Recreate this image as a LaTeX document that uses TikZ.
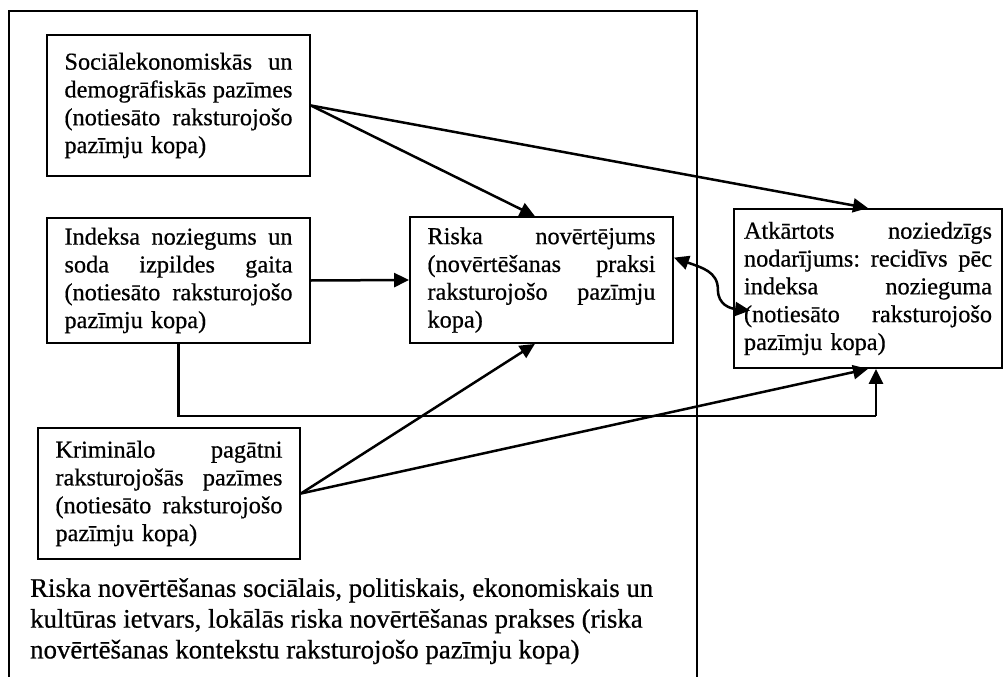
\documentclass[tikz,border=0pt]{standalone}
\usepackage{fontspec}
\setmainfont{Liberation Serif}[FakeBold=0.6]
\newfontfamily\boxfont{Liberation Serif}[FakeBold=0.6]
\usetikzlibrary{arrows.meta,calc}
\begin{document}
\begin{tikzpicture}[x=1pt,y=-1pt,
  box/.style={draw,line width=1.8pt,rectangle,inner xsep=0pt,inner ysep=0pt,
    align=left,font=\boxfont\fontsize{24.3}{27.8}\selectfont},
  tip/.tip={Triangle[length=15pt,width=14pt]},
  arr/.style={line width=2.5pt,-tip},
  arrb/.style={line width=2.5pt,tip-tip}]
\useasboundingbox (0,0) rectangle (1004,677);
% outer frame
\draw[line width=1.8pt] (9,677) -- (9,11) -- (697,11) -- (697,677);
% boxes
\node[box,minimum width=263pt,minimum height=141pt,text width=228pt] (b1) at (178.5,105.5)
 {Sociālekonomiskās\hfill un\\demogrāfiskās\hfill pazīmes\\(notiesāto\hfill raksturojošo\\pazīmju kopa)};
\node[box,minimum width=263pt,minimum height=125pt,text width=228pt] (b2) at (178.5,280.5)
 {Indeksa\hfill noziegums\hfill un\\soda\hfill izpildes\hfill gaita\\(notiesāto\hfill raksturojošo\\pazīmju kopa)};
\node[box,minimum width=263pt,minimum height=126pt,text width=228pt] (b3) at (541.5,280)
 {Riska\hfill novērtējums\\(novērtēšanas\hfill praksi\\raksturojošo\hfill pazīmju\\kopa)};
\node[box,minimum width=268pt,minimum height=159pt,text width=248pt] (b4) at (868,288.5)
 {Atkārtots\hfill noziedzīgs\\nodarījums:\hfill recidīvs\hfill pēc\\indeksa\hfill nozieguma\\(notiesāto\hfill raksturojošo\\pazīmju kopa)};
\node[box,minimum width=262pt,minimum height=131pt,text width=227pt] (b5) at (169,493.5)
 {Kriminālo\hfill pagātni\\raksturojošās\hfill pazīmes\\(notiesāto\hfill raksturojošo\\pazīmju kopa)};
% context text
\node[anchor=north west,inner sep=0pt,align=left,font=\fontsize{26.8}{30.8}\selectfont] (ctx) at (30,578)
 {Riska novērtēšanas sociālais, politiskais, ekonomiskais un\\kultūras ietvars, lokālās riska novērtēšanas prakses (riska\\novērtēšanas kontekstu raksturojošo pazīmju kopa)};
% anchor points
\coordinate (b3n) at ($(b3.north west)!0.475!(b3.north east)$);
\coordinate (b3s) at ($(b3.south west)!0.475!(b3.south east)$);
\coordinate (b3e) at ($(b3.north east)!0.325!(b3.south east)$);
\coordinate (b4in) at ($(b4.west)+(17,22)$);
\coordinate (elb) at (876,416);
% connectors
\draw[arr] (b1.east) -- (b3n);
\draw[arr] (b1.east) -- (b4.north);
\draw[arr] (b2.east) -- (b3.west);
\draw[arr] (b5.east) -- (b3s);
\draw[arr] (b5.east) -- (b4.south);
\draw[line width=2.5pt] (b2.south) |- (elb);
\draw[arr] (elb) -- (elb |- b4.south);
\draw[arrb] (b3e) .. controls ($(b3e)+(28,10)$) and ($(b3e)+(44,14)$) .. ($(b3e)+(44,32)$)
  .. controls ($(b3e)+(44,47)$) and ($(b4in)+(-20,-2)$) .. (b4in);
\end{tikzpicture}
\end{document}
